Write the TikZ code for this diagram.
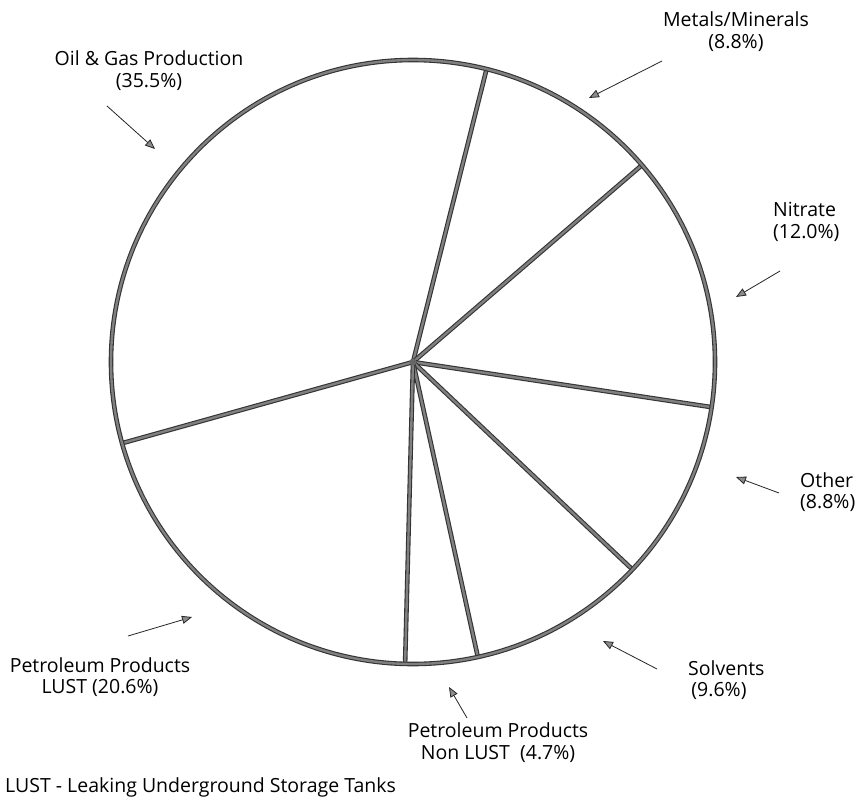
\documentclass[tikz,border=0pt]{standalone}
\usepackage{fontspec}
\setmainfont{Open Sans}
\usetikzlibrary{arrows.meta}
\tikzset{
  slice/.style={line width=1.1pt, draw=black!80, double=black!50, double distance=2.4pt},
  lbl/.style={font=\fontsize{19.5}{21.5}\selectfont, inner sep=0pt},
  pointer/.style={line width=0.8pt, draw=black!85, -{Triangle[length=10pt, width=8pt, fill=black!45]}}
}
\begin{document}
\begin{tikzpicture}[x=1pt, y=-1pt]
\useasboundingbox (0,0) rectangle (863,809);
\fill[white] (0,0) rectangle (863,809);
\coordinate (c) at (413,362);
% junction points on the rim (screen angles, clockwise positive)
\path (c) ++(-75.9:302) coordinate (j1);
\path (c) ++(-40.7:302) coordinate (j2);
\path (c) ++(8.6:302) coordinate (j3);
\path (c) ++(43.4:302) coordinate (j4);
\path (c) ++(77.6:302) coordinate (j5);
\path (c) ++(91.5:302) coordinate (j6);
\path (c) ++(164.4:302) coordinate (j7);
\foreach \j in {j1,j2,j3,j4,j5,j6,j7} \draw[slice] (c) -- (\j);
\draw[slice] (c) circle[radius=302];
\fill[black!60] (c) circle[radius=3.5];

% labels
\node[lbl, align=center] (oil) at (149,70.5) {Oil \& Gas Production\\(35.5\%)};
\node[lbl, align=center] (met) at (736,31.5) {Metals/Minerals\\(8.8\%)};
\node[lbl, align=left, anchor=west] (nit) at (773,222) {Nitrate\\(12.0\%)};
\node[lbl, align=left, anchor=west] (oth) at (800,492) {Other\\(8.8\%)};
\node[lbl, align=left, anchor=west] (sol) at (688,680) {Solvents\\\,(9.6\%)};
\node[lbl, align=center] (pnl) at (498,742.5) {Petroleum Products\\Non LUST\ \ (4.7\%)};
\node[lbl, align=center] (pl) at (100,677) {Petroleum Products\\LUST (20.6\%)};
\node[lbl, anchor=west] (foot) at (5,787) {LUST - Leaking Underground Storage Tanks};

% pointers
\coordinate (oilS) at (107,106); \coordinate (oilT) at (155,149);
\coordinate (metS) at (662,61); \coordinate (metT) at (589,98);
\coordinate (nitS) at (780,271); \coordinate (nitT) at (736,297);
\coordinate (othS) at (779,493); \coordinate (othT) at (736,477);
\coordinate (solS) at (657,669); \coordinate (solT) at (603,641);
\coordinate (pnlS) at (467,718); \coordinate (pnlT) at (449,687);
\coordinate (plS) at (128,636); \coordinate (plT) at (192,617);
\foreach \a in {oil,met,nit,oth,sol,pnl,pl} \draw[pointer] (\a S) -- (\a T);
\end{tikzpicture}
\end{document}
